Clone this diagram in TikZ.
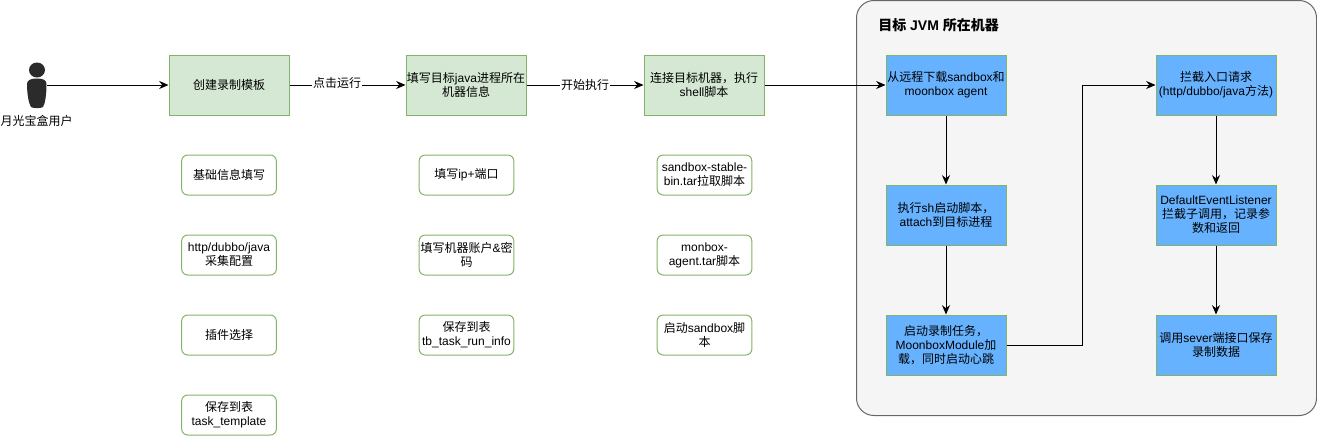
\documentclass[tikz,border=0pt]{standalone}
\usepackage{fontspec}
\setmainfont{Liberation Sans}
\newfontfamily\cjk{Noto Sans CJK SC}
\newcommand{\cn}[1]{{\cjk #1}}
\usepackage{tikz}
\usetikzlibrary{arrows.meta,positioning,calc}

\definecolor{stepgreen}{HTML}{D5E8D4}
\definecolor{linegreen}{HTML}{82B366}
\definecolor{agentblue}{HTML}{66B2FF}
\definecolor{hostgray}{HTML}{F5F5F5}
\definecolor{hostline}{HTML}{666666}
\definecolor{usergray}{HTML}{2B2B2B}

\tikzset{
    stepbox/.style={draw=linegreen, fill=stepgreen, line width=0.75pt, minimum width=90pt, minimum height=45pt, inner sep=0pt, align=center, font=\fontsize{9}{10.5}\selectfont},
    agentbox/.style={stepbox, fill=agentblue},
    notebox/.style={draw=linegreen, fill=white, rounded corners=4.5pt, line width=0.75pt, minimum width=71pt, minimum height=30pt, inner sep=0pt, align=center, font=\fontsize{9}{10.5}\selectfont},
    flowline/.style={draw=black, line width=0.75pt, -{Stealth[length=7pt,width=6pt]}},
    flowlabel/.style={fill=white, inner sep=0.5pt, font=\fontsize{9}{10.5}\selectfont}
}

\begin{document}
\begin{tikzpicture}[x=0.75pt, y=-0.75pt]
    \useasboundingbox (0,0) rectangle (1317,436);

    % Target machine
    \draw[draw=hostline, fill=hostgray, line width=0.75pt, rounded corners=13pt] (856.5,0.5) rectangle (1316.5,415.5);
    \node[anchor=west, inner sep=0pt, font=\fontsize{10.5}{12}\selectfont\bfseries] (hosttitle) at (878,25) {\cn{目标} JVM \cn{所在机器}};

    % User
    \fill[usergray] (37,70) ellipse (8 and 7.5);
    \fill[usergray] (27,84) .. controls (27,80) and (31,78.5) .. (37,78.5) .. controls (43,78.5) and (46.5,80) .. (46.5,84) .. controls (46.5,95) and (45,104) .. (43,107) .. controls (41,108.5) and (33,108.5) .. (31,107) .. controls (29,104) and (27,95) .. (27,84) -- cycle;
    \node[minimum width=15pt, minimum height=30pt, inner sep=0pt] (user) at (37,85) {};
    \node[font=\fontsize{9}{11}\selectfont, inner sep=0pt] (username) at (36.5,121) {\cn{月光宝盒用户}};

    % Main steps
    \node[stepbox] (template) at (229,85) {\cn{创建录制模板}};
    \node[stepbox] (process) at (466,85) {\cn{填写目标}java\cn{进程所在}\\\cn{机器信息}};
    \node[stepbox] (connect) at (704,85) {\cn{连接目标机器，执行}\\shell\cn{脚本}};

    % Template notes
    \node[notebox] (baseinfo) at (229,175) {\cn{基础信息填写}};
    \node[notebox] (collect) at (229,255) {http/dubbo/java\\\cn{采集配置}};
    \node[notebox] (plugin) at (229,335) {\cn{插件选择}};
    \node[notebox] (savetemplate) at (229,415) {\cn{保存到表}\\task\_template};

    % Process notes
    \node[notebox] (ipport) at (466.5,175) {\cn{填写}ip+\cn{端口}};
    \node[notebox] (account) at (466.5,255) {\cn{填写机器账户}\&\cn{密}\\\cn{码}};
    \node[notebox] (saverun) at (466.5,335) {\cn{保存到表}\\tb\_task\_run\_info};

    % Script notes
    \node[notebox] (stable) at (704.5,175) {sandbox-stable-\\bin.tar\cn{拉取脚本}};
    \node[notebox] (monbox) at (704.5,255) {monbox-\\agent.tar\cn{脚本}};
    \node[notebox] (startbox) at (704.5,335) {\cn{启动}sandbox\cn{脚}\\\cn{本}};

    % Agent steps
    \node[agentbox] (download) at (946,85) {\cn{从远程下载}sandbox\cn{和}\\moonbox agent};
    \node[agentbox] (attach) at (946,215) {\cn{执行}sh\cn{启动脚本，}\\attach\cn{到目标进程}};
    \node[agentbox] (record) at (946,345) {\cn{启动录制任务，}\\MoonboxModule\cn{加}\\\cn{载，同时启动心跳}};
    \node[agentbox] (entry) at (1216,85) {\cn{拦截入口请求}\\(http/dubbo/java\cn{方法})};
    \node[agentbox] (listener) at (1216,215) {DefaultEventListener\\\cn{拦截子调用，记录参}\\\cn{数和返回}};
    \node[agentbox] (report) at (1216,345) {\cn{调用}sever\cn{端接口保存}\\\cn{录制数据}};

    % Connectors
    \draw[flowline] (user.east) -- (template.west);
    \draw[flowline] (template.east) -- node[flowlabel, pos=0.41, yshift=1.5pt] (runlabel) {\cn{点击运行}} (process.west);
    \draw[flowline] (process.east) -- node[flowlabel] (startlabel) {\cn{开始执行}} (connect.west);
    \draw[flowline] (connect.east) -- (download.west);
    \draw[flowline] (download) -- (attach);
    \draw[flowline] (attach) -- (record);
    \draw[flowline] (record.east) -- ++(76,0) |- (entry.west);
    \draw[flowline] (entry) -- (listener);
    \draw[flowline] (listener) -- (report);
\end{tikzpicture}
\end{document}
